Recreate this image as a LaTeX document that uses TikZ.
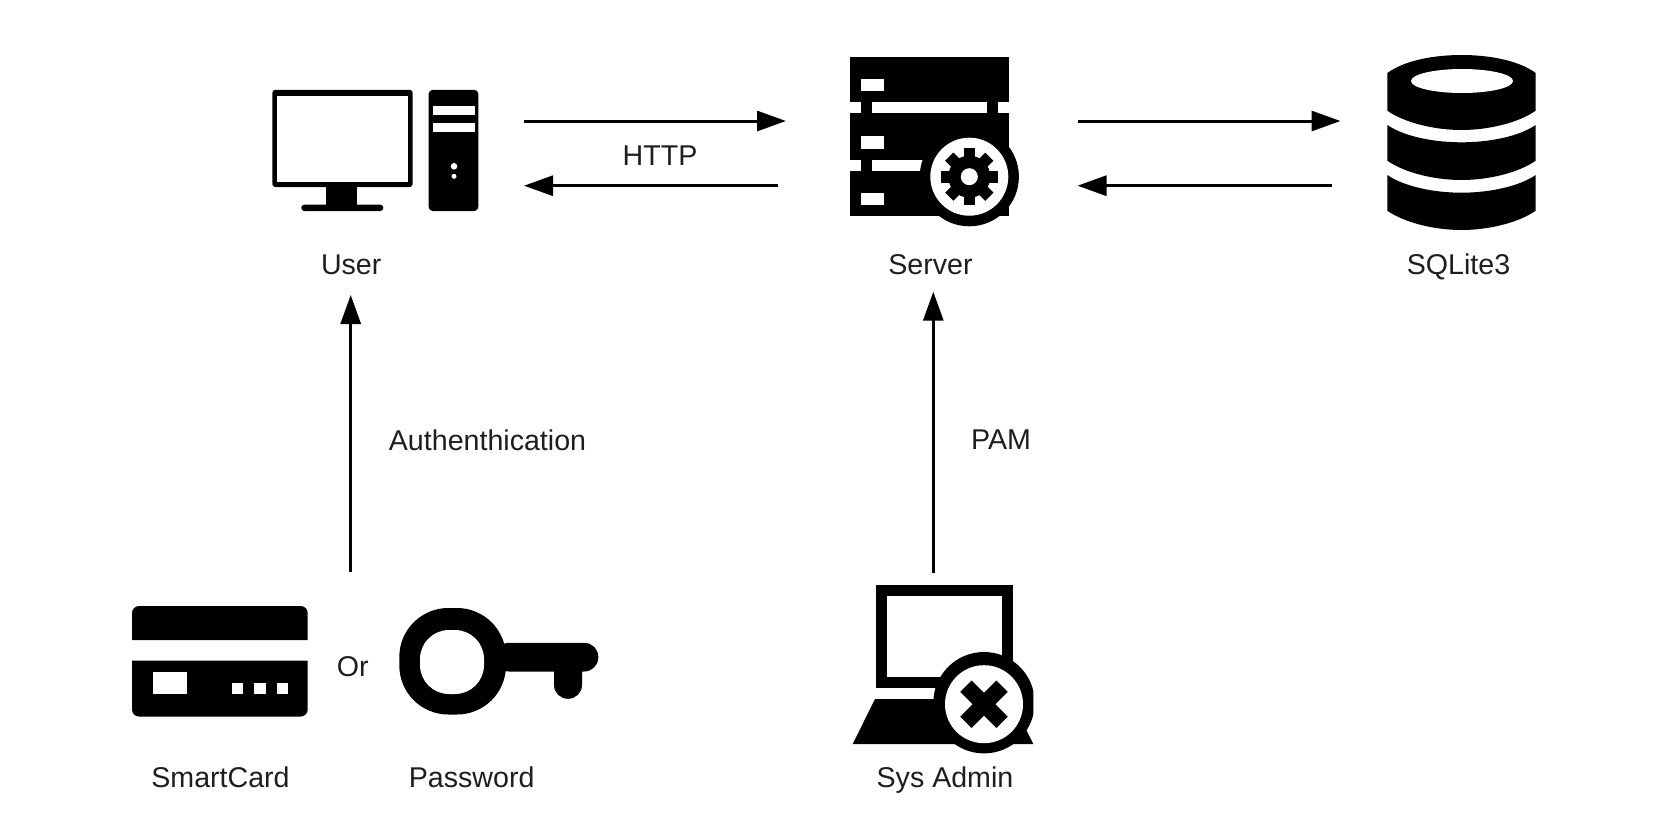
\documentclass[tikz,border=0pt]{standalone}
\usepackage{fontspec}
\setmainfont{Liberation Sans}
\usetikzlibrary{arrows.meta}
\definecolor{labelink}{HTML}{1E1E1E}
\tikzset{
  x=1pt,y=-1pt,
  label text/.style={inner sep=0pt,anchor=base,text=labelink,font=\fontsize{28.6}{32}\selectfont},
  flow/.style={draw=black,line width=3pt,-{Triangle[length=29pt,width=20pt]}},
  ink/.style={fill=black,draw=none},
  hole/.style={fill=white,draw=none}
}
\begin{document}
\begin{tikzpicture}
\useasboundingbox (0,0) rectangle (1664,820);
\fill[white] (0,0) rectangle (1664,820);

% --- User: monitor
\fill[ink,rounded corners=3pt] (272.3,89.8) rectangle (412.7,187);
\fill[hole] (277.3,95.5) rectangle (407.7,182);
\fill[ink] (325.7,185) rectangle (357.3,206);
\fill[ink,rounded corners=3pt] (301.3,204.7) rectangle (383.3,211);
% tower
\fill[ink,rounded corners=4pt] (428.7,89.8) rectangle (478.3,211);
\fill[hole] (433.3,106) rectangle (475,115.3);
\fill[hole] (433.3,123.3) rectangle (475,132);
\fill[hole] (454,166.3) circle[radius=3.3];
\fill[hole] (454,176.3) circle[radius=2.5];

% --- Server
\fill[ink] (849.7,56.7) rectangle (1009.3,102);
\fill[ink] (849.7,113.3) rectangle (1009.3,159.7);
\fill[ink] (849.7,171.3) rectangle (1009.3,216);
\fill[ink] (861.3,100) rectangle (872.3,173);
\fill[ink] (986.7,100) rectangle (998,115);
\fill[hole] (861.3,79.3) rectangle (883.7,91);
\fill[hole] (861.3,135.7) rectangle (883.7,148.7);
\fill[hole] (861.3,193.3) rectangle (883.7,205);
\fill[ink] (969.3,176.7) circle[radius=49.6];
\fill[hole] (969.3,176.7) circle[radius=39];
\begin{scope}[shift={(969.3,176.7)}]
  \foreach \a in {0,45,...,315}{
    \fill[ink,rotate=\a] (-5.8,-28.3) rectangle (5.8,0);
  }
  \fill[ink] (0,0) circle[radius=21];
  \fill[hole] (0,0) circle[radius=8.5];
\end{scope}

% --- SQLite3
\fill[ink] (1387.3,73) .. controls (1405,60) and (1435,55) .. (1461.5,55)
  .. controls (1488,55) and (1518,60) .. (1535.7,73)
  -- (1535.7,110.7) .. controls (1518,123) and (1488,130) .. (1461.5,130)
  .. controls (1435,130) and (1405,123) .. (1387.3,110.7) -- cycle;
\fill[hole] (1462,81) ellipse[x radius=51,y radius=12];
\fill[ink] (1387.3,125) .. controls (1405,137) and (1435,142.3) .. (1461.5,142.3)
  .. controls (1488,142.3) and (1518,137) .. (1535.7,125)
  -- (1535.7,160.7) .. controls (1518,173) and (1488,180) .. (1461.5,180)
  .. controls (1435,180) and (1405,173) .. (1387.3,160.7) -- cycle;
\fill[ink] (1387.3,175) .. controls (1405,187) and (1435,192.7) .. (1461.5,192.7)
  .. controls (1488,192.7) and (1518,187) .. (1535.7,175)
  -- (1535.7,210.7) .. controls (1518,223) and (1488,230) .. (1461.5,230)
  .. controls (1435,230) and (1405,223) .. (1387.3,210.7) -- cycle;

% --- SmartCard
\fill[ink] (132,640) -- (132,613) arc[start angle=180,end angle=270,radius=7] -- (300.7,606)
  arc[start angle=270,end angle=360,radius=7] -- (307.7,640) -- cycle;
\fill[ink] (132,660.5) -- (132,709.5) arc[start angle=180,end angle=90,radius=7] -- (300.7,716.5)
  arc[start angle=90,end angle=0,radius=7] -- (307.7,660.5) -- cycle;
\fill[hole] (152.7,671.5) rectangle (186.7,694);
\fill[hole] (231.7,682.6) rectangle (243.3,694);
\fill[hole] (254,682.6) rectangle (265.7,694);
\fill[hole] (276.7,682.6) rectangle (288.3,694);

% --- Password key
\fill[ink,rounded corners=14pt] (495,642.8) rectangle (598.3,671.5);
\fill[ink,rounded corners=13.9pt] (554,655) rectangle (582,698.8);
\fill[ink,rounded corners=49pt] (399.3,608) rectangle (506,714.5);
\fill[hole,rounded corners=29pt] (420,630) rectangle (484,694);

% --- Sys Admin laptop
\fill[ink] (875.7,585) rectangle (1012.7,688);
\fill[hole] (886.7,595.7) rectangle (1001.7,676.7);
\fill[ink] (875,699) -- (1011,699) -- (1033.3,744) -- (852.7,744) -- cycle;
\begin{scope}
  \clip (840,640) rectangle (1033.3,770);
  \fill[ink] (984,702.7) circle[radius=50.7];
\end{scope}
\fill[hole] (984,704.2) circle[radius=39];
\begin{scope}[shift={(984,704.2)}]
  \fill[ink,rotate=45] (-25.5,-8) rectangle (25.5,8);
  \fill[ink,rotate=45] (-8,-25.5) rectangle (8,25.5);
\end{scope}

% --- Labels
\node[label text] (userlabel) at (351.2,274.5) {User};
\node[label text] (serverlabel) at (930.5,274.5) {Server};
\node[label text] (dblabel) at (1458.5,274.5) {SQLite3};
\node[label text] (http) at (660,165) {HTTP};
\node[label text] (auth) at (487.5,450.5) {Authenthication};
\node[label text] (pam) at (1001,449.8) {PAM};
\node[label text] (orlabel) at (352.8,676.5) {Or};
\node[label text] (cardlabel) at (220.5,787.5) {SmartCard};
\node[label text] (pwlabel) at (471.7,787.5) {Password};
\node[label text] (adminlabel) at (945,787.5) {Sys Admin};

% --- Connector ends
\coordinate (userOut) at (524,121);
\coordinate (serverIn) at (786,121);
\coordinate (serverBack) at (777.7,185.7);
\coordinate (userIn) at (524,185.7);
\coordinate (serverOut) at (1078.3,121);
\coordinate (dbIn) at (1340.5,121);
\coordinate (dbBack) at (1332.3,185.7);
\coordinate (serverRet) at (1077.5,185.7);
\coordinate (authFrom) at (350.7,572);
\coordinate (authTo) at (350.7,295);
\coordinate (pamFrom) at (933.3,573);
\coordinate (pamTo) at (933.3,291.7);

\draw[flow] (userOut) -- (serverIn);
\draw[flow] (serverBack) -- (userIn);
\draw[flow] (serverOut) -- (dbIn);
\draw[flow] (dbBack) -- (serverRet);
\draw[flow] (authFrom) -- (authTo);
\draw[flow] (pamFrom) -- (pamTo);
\end{tikzpicture}
\end{document}
